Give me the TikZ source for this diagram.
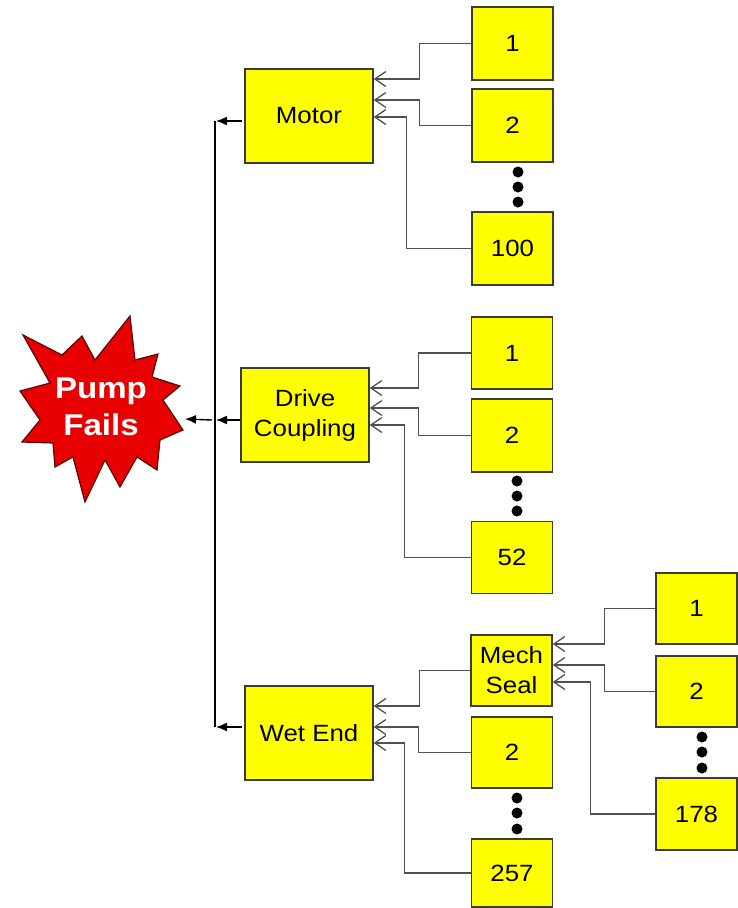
\documentclass[tikz,border=0pt]{standalone}
\usepackage{fontspec}
\setmainfont{Liberation Sans}[FakeStretch=1.1]
\usetikzlibrary{arrows.meta,calc}
\definecolor{boxyellow}{RGB}{255,255,0}
\definecolor{boxline}{RGB}{60,60,50}
\definecolor{connline}{RGB}{80,80,80}
\definecolor{burstred}{RGB}{232,0,0}
\definecolor{burstline}{RGB}{80,10,10}
\begin{document}
\begin{tikzpicture}[x=1pt,y=-1pt,
  box/.style={draw=boxline, line width=1.5pt, fill=boxyellow, minimum width=81pt,
    minimum height=73pt, inner sep=0pt, align=center, font=\fontsize{23.5}{30}\selectfont},
  bigbox/.style={box, minimum width=128pt, minimum height=94pt},
  conn/.style={draw=connline, line width=1.3pt, -{Straight Barb[length=11pt,width=15pt]}},
  mainarrow/.style={draw=black, line width=1.4pt, -{Latex[length=11pt,width=9pt]}},
  dotnode/.style={circle, fill=black, inner sep=0pt, minimum size=11pt}]
\useasboundingbox (0,0) rectangle (738,908);

% starburst
\filldraw[fill=burstred, draw=burstline, line width=1.2pt, line join=miter]
  (130,316) -- (135,360) -- (158,354) -- (152,377) -- (180,386) -- (163,400)
  -- (183,430) -- (160,440) -- (157,470) -- (137,457) -- (120,487) -- (105,460)
  -- (85,502) -- (73,457) -- (55,467) -- (53,443) -- (22,442) -- (40,420)
  -- (20,391) -- (50,383) -- (23,335) -- (62,355) -- (82,336) -- (95,360) -- cycle;
\node[text=white, font=\fontsize{30}{37}\selectfont\bfseries, align=center] (pump) at (101,407) {Pump\\Fails};
\coordinate (pumptip) at (185,419);

% main boxes
\node[bigbox] (motor) at (309,116) {Motor};
\node[bigbox] (drive) at (305,415) {Drive\\Coupling};
\node[bigbox] (wet) at (309,733) {Wet End};

% motor children
\node[box] (m1) at (512.5,43.5) {1};
\node[box] (m2) at (512.5,125.5) {2};
\node[box] (m100) at (512.5,248.5) {100};
\node[dotnode] (md1) at (518,172) {};
\node[dotnode] (md2) at (518,187) {};
\node[dotnode] (md3) at (518,202) {};

% drive children
\node[box, minimum height=72pt] (d1) at (512,353) {1};
\node[box] (d2) at (512,435.5) {2};
\node[box, minimum height=72pt] (d52) at (512,557.5) {52};
\node[dotnode] (dd1) at (517,481) {};
\node[dotnode] (dd2) at (517,496) {};
\node[dotnode] (dd3) at (517,511) {};

% wet children
\node[box, minimum height=71pt] (mech) at (511.5,670.5) {Mech\\Seal};
\node[box, minimum height=71pt] (w2) at (512,752.5) {2};
\node[box, minimum height=68pt] (w257) at (512,873) {257};
\node[dotnode] (wd1) at (517,798) {};
\node[dotnode] (wd2) at (517,813) {};
\node[dotnode] (wd3) at (517,829) {};

% mech seal children
\node[box, minimum height=71pt] (s1) at (696.5,608.5) {1};
\node[box, minimum height=71pt] (s2) at (696.5,691.5) {2};
\node[box, minimum height=72pt] (s178) at (696.5,814) {178};
\node[dotnode] (sd1) at (702,737) {};
\node[dotnode] (sd2) at (702,752) {};
\node[dotnode] (sd3) at (702,768) {};

% connectors: motor
\draw[conn] (m1.west) -- ++(-52,0) |- ($(motor.east)+(0,-37)$);
\draw[conn] (m2.west) -- ++(-52,0) |- ($(motor.east)+(0,-16)$);
\draw[conn] (m100.west) -- ++(-65,0) |- ($(motor.east)+(0,1)$);
% connectors: drive
\draw[conn] (d1.west) -- ++(-52,0) |- ($(drive.east)+(0,-27)$);
\draw[conn] (d2.west) -- ++(-52,0) |- ($(drive.east)+(0,-7)$);
\draw[conn] (d52.west) -- ++(-66,0) |- ($(drive.east)+(0,10)$);
% connectors: wet
\draw[conn] (mech.west) -- ++(-51,0) |- ($(wet.east)+(0,-27)$);
\draw[conn] (w2.west) -- ++(-52,0) |- ($(wet.east)+(0,-6)$);
\draw[conn] (w257.west) -- ++(-66,0) |- ($(wet.east)+(0,10)$);
% connectors: mech seal
\draw[conn] (s1.west) -- ++(-51,0) |- ($(mech.east)+(0,-26.5)$);
\draw[conn] (s2.west) -- ++(-51,0) |- ($(mech.east)+(0,-5.5)$);
\draw[conn] (s178.west) -- ++(-65,0) |- ($(mech.east)+(0,11.5)$);

% spine and main arrows
\coordinate (spinetop) at (215,121);
\coordinate (spinemid) at (215,420);
\coordinate (spinebot) at (215,727);
\draw[black, line width=1.4pt] (spinetop) -- (spinebot);
\draw[mainarrow] ($(motor.west)+(-2,5)$) -- ($(spinetop)+(1,0)$);
\draw[mainarrow] ($(drive.west)+(0,5)$) -- ($(spinemid)+(1,0)$);
\draw[mainarrow] ($(wet.west)+(-2,-6)$) -- ($(spinebot)+(1,0)$);
\draw[mainarrow] ($(spinemid)+(-3,0)$) -- (pumptip);
\end{tikzpicture}
\end{document}
